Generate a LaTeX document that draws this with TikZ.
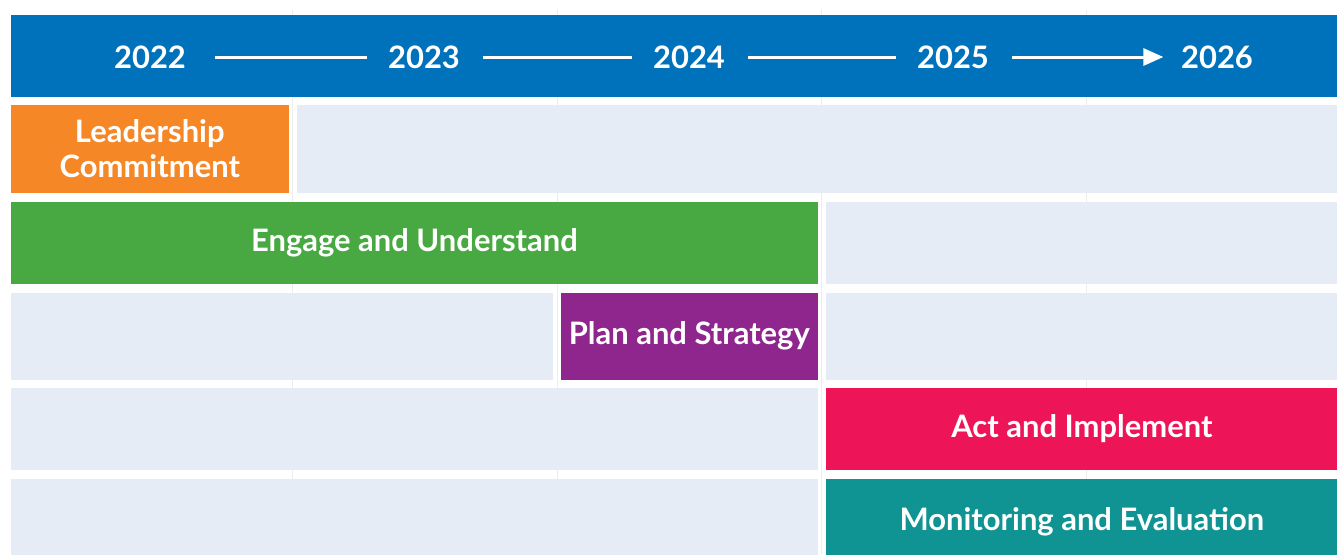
\documentclass[tikz,border=0pt]{standalone}
\usepackage{fontspec}
\setmainfont{Lato}
\usepackage{xcolor}
\usepackage{tikz}
\usetikzlibrary{arrows.meta}
\definecolor{yearblue}{HTML}{0071BB}
\definecolor{lightrow}{HTML}{E5ECF6}
\definecolor{leadorange}{HTML}{F58726}
\definecolor{engagegreen}{HTML}{48A942}
\definecolor{planpurple}{HTML}{8E268E}
\definecolor{actred}{HTML}{ED1558}
\definecolor{monteal}{HTML}{109393}

\begin{document}
\begin{tikzpicture}[x=0.01cm,y=-0.01cm,
    every node/.style={font=\fontsize{8.8}{9.8}\selectfont\bfseries},
    year/.style={text=white,inner sep=0},
    yearline/.style={draw=white,line width=0.03cm,shorten <=0.22cm,shorten >=0.2cm},
    phase/.style={anchor=north west,inner sep=0,text=white,align=center},
    lightbox/.style={anchor=north west,inner sep=0,fill=lightrow}]
		\useasboundingbox (0,0) rectangle (1337,554);
		
		% faint column lines
		\foreach \gx in {292,557,821,1086}
			\draw[black!7,line width=0.2pt] (\gx,10) -- (\gx,554);
		
		\node (band) at (10,14) [anchor=north west,inner sep=0,fill=yearblue,minimum width=13.27cm,minimum height=0.82cm] {};
		\node (y22) at (150,57) [year] {2022};
		\node (y23) at (424,57) [year] {2023};
		\node (y24) at (689,57) [year] {2024};
		\node (y25) at (953,57) [year] {2025};
		\node (y26) at (1217,57) [year] {2026};
		\draw[yearline,shorten <=0.28cm] (y22) -- (y23);
		\draw[yearline] (y23) -- (y24);
		\draw[yearline] (y24) -- (y25);
		\draw[yearline,-{Triangle[length=0.2cm,width=0.17cm]},shorten >=0.17cm] (y25) -- (y26);
		
		\node (lead) at (10,104) [phase,fill=leadorange,minimum width=2.78cm,minimum height=0.88cm] {Leadership\\Commitment};
		\node (r1) at (296,104) [lightbox,minimum width=10.41cm,minimum height=0.88cm] {};
		
		\node (engage) at (10,201) [phase,fill=engagegreen,minimum width=8.07cm,minimum height=0.82cm] {Engage and Understand};
		\node (r2) at (825,201) [lightbox,minimum width=5.12cm,minimum height=0.82cm] {};
		
		\node (r3a) at (10,292) [lightbox,minimum width=5.42cm,minimum height=0.87cm] {};
		\node (plan) at (560,292) [phase,fill=planpurple,minimum width=2.57cm,minimum height=0.87cm] {Plan and Strategy};
		\node (r3b) at (825,292) [lightbox,minimum width=5.12cm,minimum height=0.87cm] {};
		
		\node (r4) at (10,387) [lightbox,minimum width=8.07cm,minimum height=0.82cm] {};
		\node (act) at (825,387) [phase,fill=actred,minimum width=5.12cm,minimum height=0.82cm] {Act and Implement};
		
		\node (r5) at (10,478) [lightbox,minimum width=8.07cm,minimum height=0.86cm] {};
		\node (mon) at (825,478) [phase,fill=monteal,minimum width=5.12cm,minimum height=0.86cm] {Monitoring and Evaluation};
\end{tikzpicture}
\end{document}
